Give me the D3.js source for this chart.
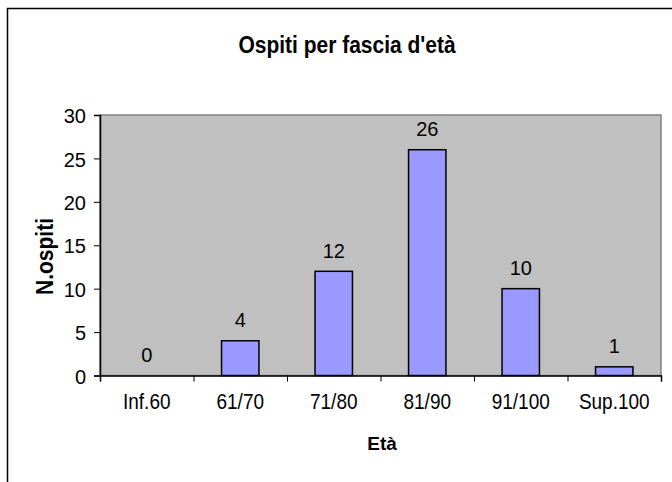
<!DOCTYPE html>
<html>
<head>
<meta charset="utf-8">
<script src="https://cdn.jsdelivr.net/npm/d3@7"></script>
<style>
  html, body { margin: 0; padding: 0; background: #fff; }
  svg { display: block; }
  text { font-family: "Liberation Sans", Arial, sans-serif; fill: #000; }
</style>
</head>
<body>
<script>
const categories = ["Inf.60", "61/70", "71/80", "81/90", "91/100", "Sup.100"];
const values = [0, 4, 12, 26, 10, 1];
const yTicks = [0, 5, 10, 15, 20, 25, 30];
const title = "Ospiti per fascia d'età";
const yTitle = "N.ospiti";
const xTitle = "Età";

const W = 672, H = 482;
const plot = { left: 100, top: 115, right: 661, bottom: 375.5 };

const svg = d3.select("body").append("svg").attr("width", W).attr("height", H);

// outer frame (extends past the picture on right/bottom)
svg.append("rect")
  .attr("x", 7.5).attr("y", 8.5).attr("width", 700).attr("height", 600)
  .attr("fill", "#fff").attr("stroke", "#000").attr("stroke-width", 1.5);

const x = d3.scaleBand().domain(categories).range([plot.left, plot.right])
  .paddingInner(0.6).paddingOuter(0.3);
const xb = d3.scaleLinear().domain([0, categories.length]).range([plot.left, plot.right]);
const y = d3.scaleLinear().domain([0, 30]).range([plot.bottom, plot.top]);

// plot area
svg.append("rect")
  .attr("x", plot.left).attr("y", plot.top)
  .attr("width", plot.right - plot.left).attr("height", plot.bottom - plot.top)
  .attr("fill", "#c0c0c0").attr("stroke", "#808080").attr("stroke-width", 1.5);

// bars
svg.append("g").selectAll("rect").data(values).join("rect")
  .attr("x", (d, i) => x(categories[i]))
  .attr("width", x.bandwidth())
  .attr("y", d => y(d))
  .attr("height", d => y(0) - y(d))
  .attr("fill", "#9999ff").attr("stroke", "#000").attr("stroke-width", 1.5);

// data labels
svg.append("g").selectAll("text").data(values).join("text")
  .attr("text-anchor", "middle")
  .attr("font-size", 20)
  .attr("transform", (d, i) => `translate(${x(categories[i]) + x.bandwidth() / 2},${y(d) - 13.5}) scale(1,1.05)`)
  .text(d => d);

// y axis
const yAxis = svg.append("g").attr("transform", `translate(${plot.left},0)`)
  .call(d3.axisLeft(y).tickValues(yTicks).tickSize(6).tickPadding(8));
yAxis.select(".domain").attr("stroke", "#000").attr("stroke-width", 1.5);
yAxis.selectAll(".tick line").attr("stroke", "#000").attr("stroke-width", 1);
yAxis.selectAll(".tick text").attr("font-size", 20).attr("font-family", null)
  .attr("x", -14).attr("dy", "0.38em");

// x axis: ticks at band boundaries
const xAxisTicks = svg.append("g").attr("transform", `translate(0,${plot.bottom})`)
  .call(d3.axisBottom(xb).tickValues(d3.range(categories.length + 1)).tickFormat("").tickSize(6));
xAxisTicks.select(".domain").attr("stroke", "#000").attr("stroke-width", 1.5);
xAxisTicks.selectAll(".tick line").attr("stroke", "#000").attr("stroke-width", 1);

// x axis labels at band centres
const xAxisLabels = svg.append("g").attr("transform", `translate(0,${plot.bottom})`)
  .call(d3.axisBottom(x).tickSize(0));
xAxisLabels.select(".domain").remove();
xAxisLabels.selectAll(".tick text").attr("font-size", 19).attr("font-family", null)
  .attr("y", 0).attr("dy", 0)
  .attr("transform", "translate(0,33.5) scale(1,1.12)");

// titles
svg.append("text").attr("text-anchor", "middle").attr("font-weight", "bold").attr("font-size", 21)
  .attr("transform", "translate(347,53) scale(1,1.15)").text(title);

svg.append("text").attr("text-anchor", "middle").attr("font-weight", "bold").attr("font-size", 21)
  .attr("transform", "translate(53,256.5) rotate(-90) scale(1,1.1)").text(yTitle);

svg.append("text").attr("text-anchor", "middle").attr("font-weight", "bold").attr("font-size", 19)
  .attr("transform", "translate(382,450)").text(xTitle);
</script>
</body>
</html>
